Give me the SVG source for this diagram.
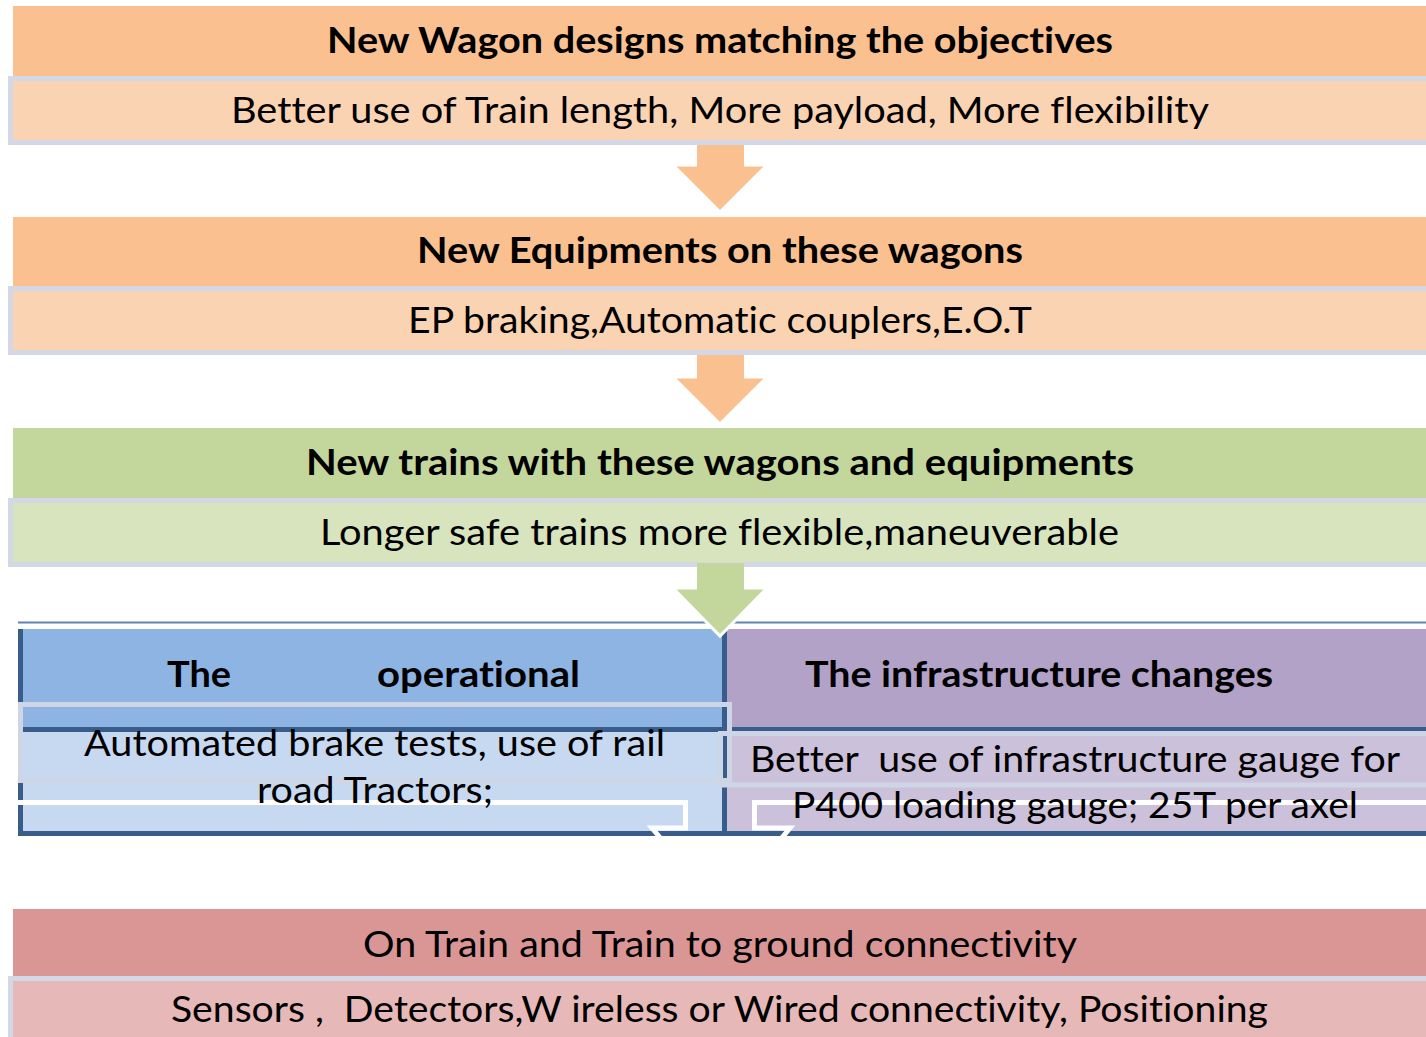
<svg xmlns="http://www.w3.org/2000/svg" width="1426" height="1037" viewBox="0 0 1426 1037">
<style>
text{font-family:Lato,"Liberation Sans",sans-serif;font-size:36px;fill:#000;white-space:pre;font-variant-ligatures:none}
.b{font-weight:bold}
.m{text-anchor:middle}
.sub{stroke:#D3D7E6;stroke-width:5}
.tip{fill:none;stroke:#fff;stroke-width:3;stroke-linejoin:miter}
.ov{fill:none;stroke:#CED5E4;stroke-width:5}
.wl{fill:none;stroke:#fff;stroke-width:5}
.dk{fill:#385D8A}
</style>
<rect width="1426" height="1037" fill="#fff"/>
<g id="connectors">
<polygon fill="#FAC090" points="697,140 744,140 744,165 767,165 720,212 673,165 697,165"/>
<polyline class="tip" points="744,165 767,165 720,212 673,165 697,165"/>
<polygon fill="#FAC090" points="697,352 744,352 744,377 767,377 720,424 673,377 697,377"/>
<polyline class="tip" points="744,377 767,377 720,424 673,377 697,377"/>
</g>
<g id="n1">
<rect x="13" y="6" width="1420" height="74" fill="#FAC090"/>
<rect class="sub" x="10.5" y="78.5" width="1420" height="64" fill="#FAD3B3"/>
<text class="b m" x="720" y="53" textLength="786" lengthAdjust="spacingAndGlyphs">New Wagon designs matching the objectives</text>
<text class="m" x="720" y="123" textLength="978" lengthAdjust="spacingAndGlyphs">Better use of Train length, More payload, More flexibility</text>
</g>
<g id="n2">
<rect x="13" y="217" width="1420" height="73" fill="#FAC090"/>
<rect class="sub" x="10.5" y="288.5" width="1420" height="64" fill="#FAD3B3"/>
<text class="b m" x="720" y="263" textLength="606" lengthAdjust="spacingAndGlyphs">New Equipments on these wagons</text>
<text class="m" x="720" y="333" textLength="624" lengthAdjust="spacingAndGlyphs">EP braking,Automatic couplers,E.O.T</text>
</g>
<g id="n3">
<rect x="13" y="428" width="1420" height="74" fill="#C3D69B"/>
<rect class="sub" x="10.5" y="500.5" width="1420" height="64" fill="#D7E4BD"/>
<text class="b m" x="720" y="475" textLength="828" lengthAdjust="spacingAndGlyphs">New trains with these wagons and equipments</text>
<text class="m" x="719.5" y="545" textLength="799" lengthAdjust="spacingAndGlyphs">Longer safe trains more flexible,maneuverable</text>
</g>
<g id="table">
<line x1="18" y1="622.5" x2="1426" y2="622.5" stroke="#6383B0" stroke-width="1.8"/>
<rect x="18" y="629" width="706" height="100" fill="#8EB4E3"/>
<rect x="18" y="729" width="706" height="105" fill="#C6D9F1"/>
<rect x="724" y="629" width="710" height="100" fill="#B3A2C7"/>
<rect x="724" y="729" width="710" height="105" fill="#CCC1DA"/>
<rect class="dk" x="18" y="629" width="5" height="207"/>
<rect class="dk" x="722" y="629" width="5" height="207"/>
<rect class="dk" x="18" y="727" width="1420" height="5"/>
<rect class="dk" x="18" y="831" width="1420" height="5"/>
</g>
<g id="n4">
<rect class="ov" x="20.5" y="704.5" width="709" height="76"/>
<rect class="ov" x="720.5" y="733.5" width="720" height="51.5" fill="#CCC1DA"/>
<polyline class="wl" points="18,802.5 685.5,802.5 685.5,828 652,828 662,840"/>
<polyline class="wl" points="1430,802.5 754.5,802.5 754.5,828 790,828 780,840"/>
<text class="b" y="687"><tspan x="167" textLength="64" lengthAdjust="spacingAndGlyphs">The</tspan> <tspan x="377" textLength="203" lengthAdjust="spacingAndGlyphs">operational</tspan></text>
<text x="84" y="756" textLength="581" lengthAdjust="spacingAndGlyphs">Automated brake tests, use of rail</text>
<text x="257" y="803" textLength="236" lengthAdjust="spacingAndGlyphs">road Tractors;</text>
</g>
<g id="n5">
<text class="b" x="805" y="687" textLength="468" lengthAdjust="spacingAndGlyphs">The infrastructure changes</text>
<text x="750" y="772" textLength="650" lengthAdjust="spacingAndGlyphs">Better  use of infrastructure gauge for</text>
<text x="792" y="818" textLength="566" lengthAdjust="spacingAndGlyphs">P400 loading gauge; 25T per axel</text>
</g>
<g id="connector3">
<polygon fill="#C3D69B" points="697,563 744,563 744,588 767,588 720,636 673,588 697,588"/>
<polyline class="tip" points="744,588 767,588 720,636 673,588 697,588"/>
</g>
<g id="n6">
<rect x="13" y="909" width="1420" height="72" fill="#D99694"/>
<rect class="sub" x="10.5" y="978.5" width="1420" height="100" fill="#E6B9B8"/>
<text class="m" x="720" y="957" textLength="714" lengthAdjust="spacingAndGlyphs">On Train and Train to ground connectivity</text>
<text x="171" y="1022" textLength="1097" lengthAdjust="spacingAndGlyphs">Sensors ,  Detectors,W ireless or Wired connectivity, Positioning</text>
</g>
</svg>
